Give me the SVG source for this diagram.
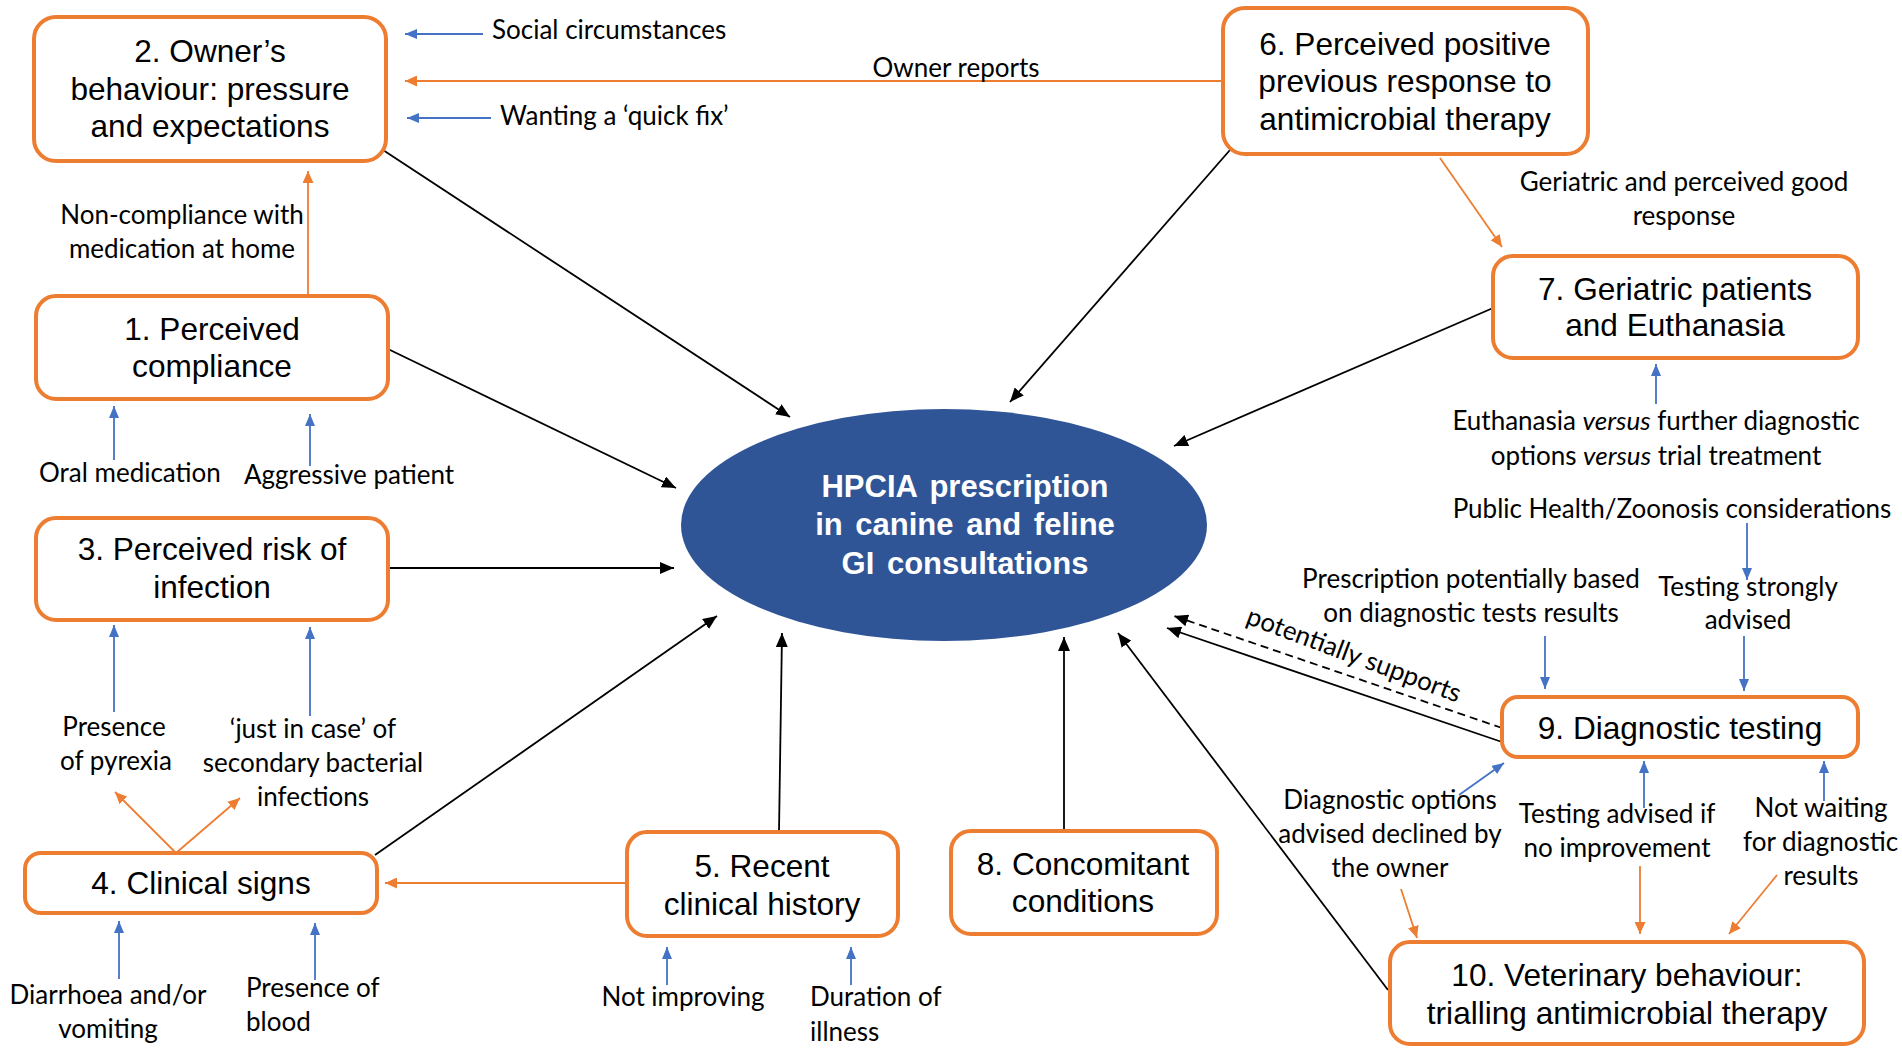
<svg xmlns="http://www.w3.org/2000/svg" width="1902" height="1057" viewBox="0 0 1902 1057">
<defs>
<marker id="ab" markerUnits="userSpaceOnUse" markerWidth="14" markerHeight="12" refX="14" refY="6" orient="auto"><path d="M0,0 L14,6 L0,12 z" fill="#000"/></marker>
<marker id="ao" markerUnits="userSpaceOnUse" markerWidth="12" markerHeight="11" refX="12" refY="5.5" orient="auto"><path d="M0,0 L12,5.5 L0,11 z" fill="#ED7D31"/></marker>
<marker id="al" markerUnits="userSpaceOnUse" markerWidth="12" markerHeight="10" refX="12" refY="5" orient="auto"><path d="M0,0 L12,5 L0,10 z" fill="#4472C4"/></marker>
</defs>
<style>
.box{fill:#fff;stroke:#ED7D31;stroke-width:4}
.nt{font-family:"Liberation Sans",Arial,sans-serif;font-size:31.6px;fill:#000;text-anchor:middle}
.lb{font-family:Lato,"Open Sans",sans-serif;font-size:26px;fill:#000}
.c{text-anchor:middle}
.k{stroke:#000;stroke-width:1.8;fill:none;marker-end:url(#ab)}
.o{stroke:#ED7D31;stroke-width:1.8;fill:none;marker-end:url(#ao)}
.b{stroke:#4472C4;stroke-width:1.8;fill:none;marker-end:url(#al)}
.ct{font-family:"Liberation Sans",Arial,sans-serif;font-size:31px;font-weight:bold;fill:#fff;text-anchor:middle;word-spacing:4px}
</style>
<rect width="1902" height="1057" fill="#fff"/>

<g id="connectors">
<line class="o" x1="1223" y1="81" x2="405" y2="81"/>
<line class="b" x1="483" y1="34" x2="405" y2="34"/>
<line class="b" x1="491" y1="118" x2="407" y2="118"/>
<line class="o" x1="308" y1="296" x2="308" y2="171"/>
<line class="b" x1="114" y1="460" x2="114" y2="406"/>
<line class="b" x1="310" y1="466" x2="310" y2="414"/>
<line class="b" x1="114" y1="712" x2="114" y2="625"/>
<line class="b" x1="310" y1="716" x2="310" y2="627"/>
<line class="o" x1="176" y1="853" x2="115" y2="792"/>
<line class="o" x1="176" y1="853" x2="240" y2="798"/>
<line class="b" x1="119" y1="979" x2="119" y2="921"/>
<line class="b" x1="315" y1="980" x2="315" y2="923"/>
<line class="o" x1="627" y1="883" x2="385" y2="883"/>
<line class="b" x1="667" y1="985" x2="667" y2="947"/>
<line class="b" x1="851" y1="985" x2="851" y2="947"/>
<line class="k" x1="779" y1="832" x2="782" y2="633"/>
<line class="k" x1="1064" y1="831" x2="1064" y2="637"/>
<line class="k" x1="375" y1="855" x2="717" y2="616"/>
<line class="k" x1="388" y1="568" x2="674" y2="568"/>
<line class="k" x1="388" y1="349" x2="676" y2="488"/>
<line class="k" x1="383" y1="150" x2="790" y2="417"/>
<line class="k" x1="1230" y1="150" x2="1010" y2="402"/>
<line class="k" x1="1493" y1="308" x2="1174" y2="446"/>
<line class="o" x1="1440" y1="158" x2="1502" y2="247"/>
<line class="b" x1="1656" y1="404" x2="1656" y2="364"/>
<line class="b" x1="1747" y1="523" x2="1747" y2="580"/>
<line class="b" x1="1744" y1="636" x2="1744" y2="691"/>
<line class="b" x1="1545" y1="636" x2="1545" y2="689"/>
<line class="k" x1="1502" y1="742" x2="1167" y2="628"/>
<line class="k" x1="1502" y1="728" x2="1174" y2="616" stroke-dasharray="8,5"/>
<line class="b" x1="1459" y1="795" x2="1504" y2="763"/>
<line class="o" x1="1401" y1="889" x2="1417" y2="938"/>
<line class="b" x1="1644" y1="808" x2="1644" y2="761"/>
<line class="o" x1="1640" y1="866" x2="1640" y2="934"/>
<line class="b" x1="1824" y1="801" x2="1824" y2="761"/>
<line class="o" x1="1777" y1="875" x2="1729" y2="934"/>
<line class="k" x1="1388" y1="990" x2="1118" y2="633"/>
</g>

<g id="center">
<ellipse cx="944" cy="525" rx="263" ry="116" fill="#2F5597"/>
<text class="ct" x="965" y="497">HPCIA prescription</text>
<text class="ct" x="965" y="535">in canine and feline</text>
<text class="ct" x="965" y="574">GI consultations</text>
</g>

<g id="node2">
<rect class="box" x="34" y="17" width="352" height="144" rx="22"/>
<text class="nt" x="210" y="62">2. Owner’s</text>
<text class="nt" x="210" y="100">behaviour: pressure</text>
<text class="nt" x="210" y="137">and expectations</text>
</g>
<g id="node6">
<rect class="box" x="1223" y="8" width="365" height="146" rx="22"/>
<text class="nt" x="1405" y="55">6. Perceived positive</text>
<text class="nt" x="1405" y="92">previous response to</text>
<text class="nt" x="1405" y="130">antimicrobial therapy</text>
</g>
<g id="node7">
<rect class="box" x="1493" y="256" width="365" height="102" rx="20"/>
<text class="nt" x="1675" y="300">7. Geriatric patients</text>
<text class="nt" x="1675" y="336">and Euthanasia</text>
</g>
<g id="node1">
<rect class="box" x="36" y="296" width="352" height="103" rx="20"/>
<text class="nt" x="212" y="340">1. Perceived</text>
<text class="nt" x="212" y="377">compliance</text>
</g>
<g id="node3">
<rect class="box" x="36" y="518" width="352" height="102" rx="20"/>
<text class="nt" x="212" y="560">3. Perceived risk of</text>
<text class="nt" x="212" y="598">infection</text>
</g>
<g id="node4">
<rect class="box" x="25" y="853" width="352" height="60" rx="16"/>
<text class="nt" x="201" y="894">4. Clinical signs</text>
</g>
<g id="node5">
<rect class="box" x="627" y="832" width="271" height="104" rx="20"/>
<text class="nt" x="762" y="877">5. Recent</text>
<text class="nt" x="762" y="915">clinical history</text>
</g>
<g id="node8">
<rect class="box" x="951" y="831" width="266" height="103" rx="20"/>
<text class="nt" x="1083" y="875">8. Concomitant</text>
<text class="nt" x="1083" y="912">conditions</text>
</g>
<g id="node9">
<rect class="box" x="1502" y="697" width="356" height="60" rx="16"/>
<text class="nt" x="1680" y="739">9. Diagnostic testing</text>
</g>
<g id="node10">
<rect class="box" x="1390" y="942" width="474" height="102" rx="20"/>
<text class="nt" x="1627" y="986">10. Veterinary behaviour:</text>
<text class="nt" x="1627" y="1024">trialling antimicrobial therapy</text>
</g>

<g id="labels">
<text class="lb" x="492" y="39">Social circumstances</text>
<text class="lb c" x="956" y="77">Owner reports</text>
<text class="lb" x="500" y="125">Wanting a ‘quick fix’</text>
<text class="lb c" x="182" y="224">Non-compliance with</text>
<text class="lb c" x="182" y="258">medication at home</text>
<text class="lb" x="39" y="482">Oral medication</text>
<text class="lb" x="244" y="484">Aggressive patient</text>
<text class="lb c" x="114" y="736">Presence</text>
<text class="lb c" x="116" y="770">of pyrexia</text>
<text class="lb c" x="313" y="738">‘just in case’ of</text>
<text class="lb c" x="313" y="772">secondary bacterial</text>
<text class="lb c" x="313" y="806">infections</text>
<text class="lb c" x="108" y="1004">Diarrhoea and/or</text>
<text class="lb c" x="108" y="1038">vomiting</text>
<text class="lb" x="246" y="997">Presence of</text>
<text class="lb" x="246" y="1031">blood</text>
<text class="lb c" x="683" y="1006">Not improving</text>
<text class="lb" x="810" y="1006">Duration of</text>
<text class="lb" x="810" y="1041">illness</text>
<text class="lb c" x="1684" y="191">Geriatric and perceived good</text>
<text class="lb c" x="1684" y="225">response</text>
<text class="lb c" x="1656" y="430">Euthanasia <tspan font-style="italic">versus</tspan> further diagnostic</text>
<text class="lb c" x="1656" y="465">options <tspan font-style="italic">versus</tspan> trial treatment</text>
<text class="lb c" x="1672" y="518">Public Health/Zoonosis considerations</text>
<text class="lb c" x="1471" y="588">Prescription potentially based</text>
<text class="lb c" x="1471" y="622">on diagnostic tests results</text>
<text class="lb c" x="1748" y="596">Testing strongly</text>
<text class="lb c" x="1748" y="629">advised</text>
<text class="lb c" transform="translate(1351,663) rotate(20.5)" x="0" y="0">potentially supports</text>
<text class="lb c" x="1390" y="809">Diagnostic options</text>
<text class="lb c" x="1390" y="843">advised declined by</text>
<text class="lb c" x="1390" y="877">the owner</text>
<text class="lb c" x="1617" y="823">Testing advised if</text>
<text class="lb c" x="1617" y="857">no improvement</text>
<text class="lb c" x="1821" y="817">Not waiting</text>
<text class="lb" x="1743" y="851">for diagnostic</text>
<text class="lb c" x="1821" y="885">results</text>
</g>
</svg>
